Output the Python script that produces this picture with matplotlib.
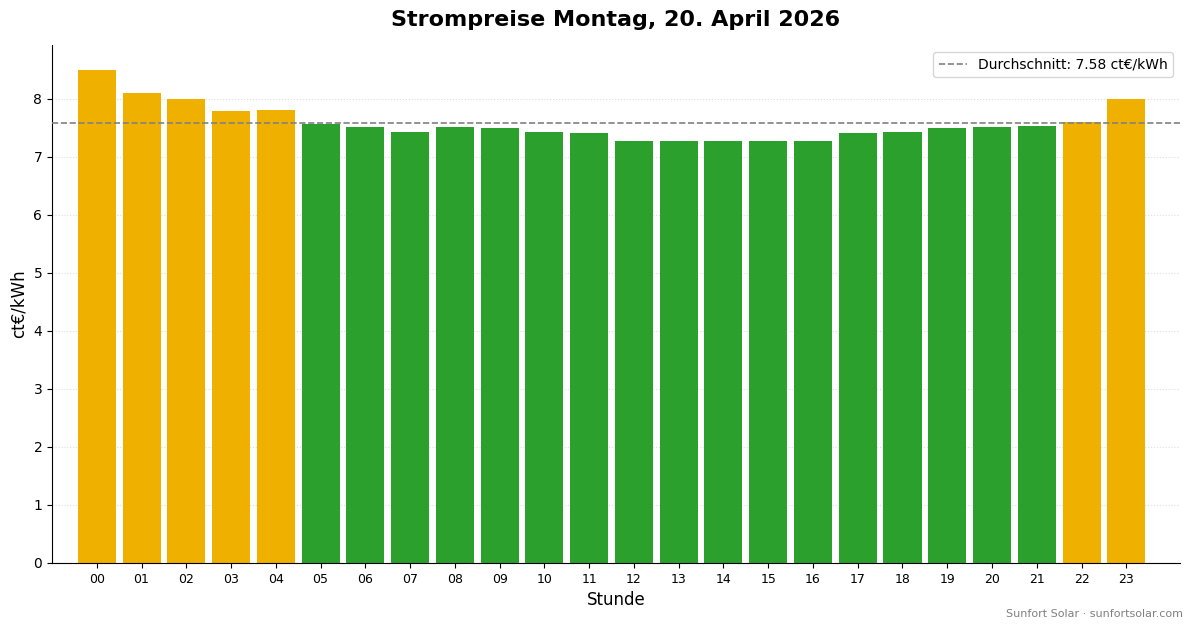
import matplotlib
matplotlib.use("Agg")
import matplotlib.pyplot as plt
import numpy as np

hours = [f"{h:02d}" for h in range(24)]
prices = [8.50, 8.10, 8.00, 7.79, 7.81, 7.57, 7.52, 7.43, 7.52, 7.50, 7.43, 7.41,
          7.28, 7.28, 7.28, 7.28, 7.28, 7.41, 7.43, 7.50, 7.52, 7.53, 7.60, 8.00]

avg = float(np.mean(prices))
colors = ["#f0b000" if p > avg else "#2ca02c" for p in prices]

fig = plt.figure(figsize=(11.93, 6.28), dpi=100)
ax = fig.add_axes([52/1193, 1-563/628, (1180-52)/1193, (563-45)/628])
x = np.arange(len(hours))
ax.bar(x, prices, color=colors, width=0.85, zorder=2)
ax.axhline(avg, color="gray", linestyle="--", linewidth=1.2,
           label=f"Durchschnitt: {avg:.2f} ct€/kWh", zorder=3)
ax.set_xticks(x)
ax.set_xticklabels(hours, fontsize=9)
ax.set_xlim(-1.0, 24.2)
ax.set_ylim(0, 8.93)
ax.yaxis.grid(True, linestyle=":", color="#dddddd", zorder=0)
ax.spines["top"].set_visible(False)
ax.spines["right"].set_visible(False)
ax.set_xlabel("Stunde", fontsize=12)
ax.set_ylabel("ct€/kWh", fontsize=12)
ax.set_title("Strompreise Montag, 20. April 2026", fontsize=16, fontweight="bold", pad=14)
ax.legend(loc="upper right", fontsize=10)
fig.text(0.992, 0.015, "Sunfort Solar · sunfortsolar.com", ha="right", va="bottom",
         fontsize=8, color="gray")
fig.savefig("out.png", dpi=100)
